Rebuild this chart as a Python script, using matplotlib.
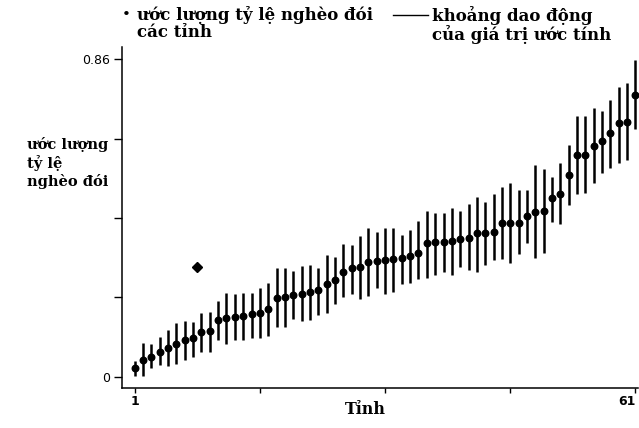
import numpy as np
import matplotlib
matplotlib.use("Agg")
import matplotlib.pyplot as plt
from matplotlib.lines import Line2D

# ===============================
# DADOS
# ===============================
tinh = np.arange(1, 62)

uoc_luong = [0.023, 0.045, 0.054, 0.068, 0.079, 0.090, 0.099, 0.106, 0.122, 0.124,
             0.153, 0.160, 0.163, 0.164, 0.169, 0.172, 0.183, 0.214, 0.217, 0.221,
             0.223, 0.230, 0.235, 0.251, 0.262, 0.285, 0.294, 0.298, 0.312, 0.314,
             0.316, 0.318, 0.321, 0.327, 0.336, 0.362, 0.364, 0.366, 0.368, 0.373,
             0.375, 0.389, 0.390, 0.393, 0.416, 0.417, 0.417, 0.436, 0.446, 0.449,
             0.483, 0.495, 0.547, 0.601, 0.601, 0.626, 0.640, 0.660, 0.687, 0.691,
             0.763]

can_duoi = [0.003, 0.002, 0.023, 0.032, 0.030, 0.035, 0.045, 0.054, 0.068, 0.068,
            0.099, 0.090, 0.099, 0.099, 0.104, 0.104, 0.110, 0.134, 0.135, 0.156,
            0.151, 0.154, 0.167, 0.172, 0.196, 0.215, 0.223, 0.212, 0.219, 0.240,
            0.224, 0.230, 0.251, 0.253, 0.264, 0.269, 0.276, 0.285, 0.277, 0.298,
            0.289, 0.285, 0.303, 0.316, 0.318, 0.309, 0.334, 0.363, 0.321, 0.336,
            0.420, 0.414, 0.465, 0.495, 0.497, 0.524, 0.553, 0.565, 0.578, 0.587,
            0.670]

can_tren = [0.042, 0.092, 0.089, 0.107, 0.128, 0.145, 0.152, 0.149, 0.172, 0.176,
            0.205, 0.228, 0.224, 0.226, 0.226, 0.240, 0.255, 0.294, 0.296, 0.287,
            0.300, 0.302, 0.296, 0.329, 0.325, 0.359, 0.357, 0.381, 0.404, 0.393,
            0.404, 0.402, 0.384, 0.399, 0.423, 0.450, 0.444, 0.445, 0.456, 0.449,
            0.467, 0.488, 0.474, 0.494, 0.515, 0.524, 0.506, 0.506, 0.574, 0.562,
            0.542, 0.578, 0.628, 0.707, 0.707, 0.727, 0.721, 0.750, 0.784, 0.795,
            0.858]

# ponto isolado que aparece na figura
diem_le_x = [8.45]
diem_le_y = [0.298]

xticks = [1, 16, 31, 46, 61]
xticklabels = ["1", "", "", "", "61"]
yticks = [0, 0.215, 0.43, 0.645, 0.86]
yticklabels = ["0", "", "", "", "0.86"]

# ===============================
# PLOT
# ===============================
serif = ["DejaVu Serif"]
sans = ["DejaVu Sans"]

fig = plt.figure(figsize=(6.39, 4.28), dpi=100)
ax = fig.add_axes([122.3 / 639, 1 - 388.3 / 428, (638 - 122.3) / 639, (388.3 - 46.7) / 428])

ax.vlines(tinh, can_duoi, can_tren, colors="black", linewidth=1.8)
ax.plot(tinh, uoc_luong, "o", color="black", markersize=4.7)
ax.plot(diem_le_x, diem_le_y, "D", color="black", markersize=5.5)

ax.set_xlim(-0.48, 61.3)
ax.set_ylim(-0.031, 0.894)

for s in ["top", "right"]:
    ax.spines[s].set_visible(False)
for s in ["left", "bottom"]:
    ax.spines[s].set_linewidth(1.1)

ax.set_xticks(xticks)
ax.set_xticklabels(xticklabels, family=sans, fontsize=9, fontweight="bold")
ax.get_xticklabels()[-1].set_horizontalalignment("right")
ax.set_yticks(yticks)
ax.set_yticklabels(yticklabels, family=sans, fontsize=9)
ax.tick_params(axis="y", length=5.5, width=1, pad=3)
ax.tick_params(axis="x", length=3.5, width=1, pad=1)

# rótulos
fig.text(365 / 639, 1 - 409 / 428, "Tỉnh", family=serif, fontsize=11.5,
         fontweight="bold", ha="center", va="center")
fig.text(27 / 639, 1 - 137 / 428, "ước lượng\ntỷ lệ\nnghèo đói", family=serif,
         fontsize=10.5, fontweight="bold", ha="left", va="top", linespacing=1.25)

# legenda manual
fig.text(126 / 639, 1 - 15 / 428, "•", family=serif, fontsize=11, ha="center", va="center")
fig.text(137 / 639, 1 - 6 / 428, "ước lượng tỷ lệ nghèo đói\ncác tỉnh", family=serif,
         fontsize=12, fontweight="bold", ha="left", va="top", linespacing=1.0)
fig.add_artist(Line2D([393 / 639, 428 / 639], [1 - 15 / 428, 1 - 15 / 428],
                      color="black", linewidth=1.0, transform=fig.transFigure))
fig.text(432 / 639, 1 - 6 / 428, "khoảng dao động\ncủa giá trị ước tính", family=serif,
         fontsize=12, fontweight="bold", ha="left", va="top", linespacing=1.0)

fig.savefig("out.png", dpi=100)
